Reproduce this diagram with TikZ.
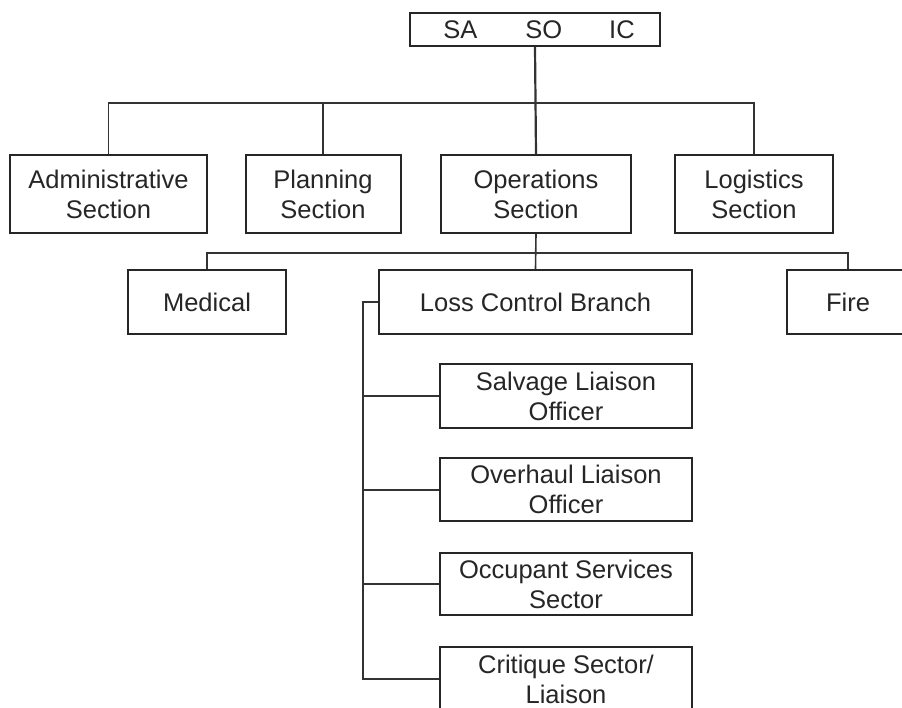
\documentclass[tikz,border=0pt]{standalone}
\usepackage{fontspec}
\setmainfont{Liberation Sans}
\begin{document}
\begin{tikzpicture}[x=1pt,y=-1pt,
  box/.style={draw=black!85, line width=2pt, inner sep=0pt, align=center,
    font=\fontsize{25.5}{30}\selectfont, text=black!85},
  conn/.style={draw=black!80, line width=1.6pt}]
\useasboundingbox (0,0) rectangle (902,708);
\clip (0,0) rectangle (902,708);
\fill[white] (0,0) rectangle (902,708);
% top
\node[box, minimum width=250pt, minimum height=33pt] (top) at (535,29.5) {\hspace{8pt}SA\hspace{48pt}SO\hspace{47pt}IC};
% sections
\node[box, minimum width=197pt, minimum height=78pt] (admin) at (108.5,194) {Administrative\\Section};
\node[box, minimum width=155pt, minimum height=78pt] (plan) at (323,194) {Planning\\Section};
\node[box, minimum width=190pt, minimum height=78pt] (ops) at (536,194) {Operations\\Section};
\node[box, minimum width=158pt, minimum height=78pt] (log) at (754,194) {Logistics\\Section};
% branches
\node[box, minimum width=158pt, minimum height=64pt] (med) at (207,302) {Medical};
\node[box, minimum width=313pt, minimum height=64pt] (loss) at (535.5,302) {Loss Control Branch};
\node[box, minimum width=122pt, minimum height=64pt] (fire) at (848,302) {Fire};
% sub
\node[box, minimum width=252pt, minimum height=64pt] (salv) at (566,396) {Salvage Liaison\\Officer};
\node[box, minimum width=252pt, minimum height=63pt] (over) at (566,489.5) {Overhaul Liaison\\Officer};
\node[box, minimum width=252pt, minimum height=62pt] (occ) at (566,584) {Occupant Services\\Sector};
\node[box, minimum width=252pt, minimum height=64pt] (crit) at (566,679) {Critique Sector/\\Liaison};
% connectors
\coordinate (bus1) at (536,103);
\coordinate (bus2) at (536,253);
\coordinate (spine) at (363,302);
\draw[conn, line width=2.2pt] (top.south) -- (ops.north);
\draw[conn] (admin.north) |- (bus1) -| (log.north);
\draw[conn] (plan.north) -- (plan.north |- bus1);
\draw[conn] (ops.south) -- (loss.north);
\draw[conn] (med.north) |- (bus2) -| (fire.north);
\draw[conn, line width=2pt] (loss.west) -- (spine) |- (crit.west);
\draw[conn, line width=2pt] (spine |- salv.west) -- (salv.west);
\draw[conn, line width=2pt] (spine |- over.west) -- (over.west);
\draw[conn, line width=2pt] (spine |- occ.west) -- (occ.west);
\end{tikzpicture}
\end{document}
